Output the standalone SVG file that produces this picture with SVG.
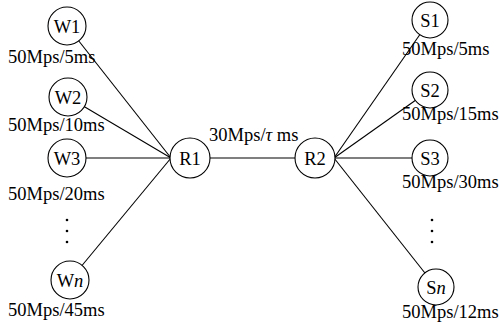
<svg xmlns="http://www.w3.org/2000/svg" width="500" height="323" viewBox="0 0 500 323">
<style>
.ln{stroke:#000;stroke-width:1.1;fill:none}
.nd{fill:#fff;stroke:#000;stroke-width:1.1}
text{font-family:"Liberation Serif","Times New Roman",serif;font-size:18.5px;fill:#000}
.c{text-anchor:middle}
.i{font-style:italic}
</style>
<rect width="500" height="323" fill="#fff"/>
<g id="connectors">
<line class="ln" x1="67" y1="26" x2="171" y2="158"/>
<line class="ln" x1="68" y1="97" x2="171" y2="158"/>
<line class="ln" x1="67" y1="158" x2="171" y2="158"/>
<line class="ln" x1="70" y1="280" x2="171" y2="158"/>
<line class="ln" x1="190" y1="158" x2="315" y2="158"/>
<line class="ln" x1="334" y1="158" x2="430" y2="20"/>
<line class="ln" x1="334" y1="158" x2="430" y2="90"/>
<line class="ln" x1="334" y1="158" x2="430" y2="158"/>
<line class="ln" x1="334" y1="158" x2="436" y2="287"/>
</g>
<g id="W1"><circle class="nd" cx="67" cy="26" r="19"/><text class="c" x="67" y="32.5">W1</text></g>
<g id="W2"><circle class="nd" cx="68" cy="97" r="19"/><text class="c" x="68" y="103.5">W2</text></g>
<g id="W3"><circle class="nd" cx="67" cy="158" r="19"/><text class="c" x="67" y="164.5">W3</text></g>
<g id="Wn"><circle class="nd" cx="70" cy="280" r="19"/><text class="c" x="70" y="286.5">W<tspan class="i">n</tspan></text></g>
<g id="R1"><circle class="nd" cx="190" cy="158" r="20"/><text class="c" x="190" y="164.5">R1</text></g>
<g id="R2"><circle class="nd" cx="315" cy="158" r="20"/><text class="c" x="315" y="164.5">R2</text></g>
<g id="S1"><circle class="nd" cx="430" cy="20" r="18"/><text class="c" x="430" y="26.5">S1</text></g>
<g id="S2"><circle class="nd" cx="430" cy="90" r="18"/><text class="c" x="430" y="96.5">S2</text></g>
<g id="S3"><circle class="nd" cx="430" cy="158" r="18"/><text class="c" x="430" y="164.5">S3</text></g>
<g id="Sn"><circle class="nd" cx="436" cy="287" r="18"/><text class="c" x="436" y="293.5">S<tspan class="i">n</tspan></text></g>
<g id="labels">
<text x="8" y="63">50Mps/5ms</text>
<text x="8" y="131">50Mps/10ms</text>
<text x="8" y="200">50Mps/20ms</text>
<text x="8" y="316">50Mps/45ms</text>
<text x="209" y="141">30Mps/<tspan class="i">τ</tspan> ms</text>
<text x="402" y="55">50Mps/5ms</text>
<text x="402" y="120">50Mps/15ms</text>
<text x="402" y="188">50Mps/30ms</text>
<text x="402" y="318">50Mps/12ms</text>
</g>
<g id="dots" fill="#000">
<circle cx="67" cy="220" r="1.3"/><circle cx="67" cy="231" r="1.3"/><circle cx="67" cy="242" r="1.3"/>
<circle cx="432" cy="220" r="1.3"/><circle cx="432" cy="231" r="1.3"/><circle cx="432" cy="242" r="1.3"/>
</g>
</svg>
